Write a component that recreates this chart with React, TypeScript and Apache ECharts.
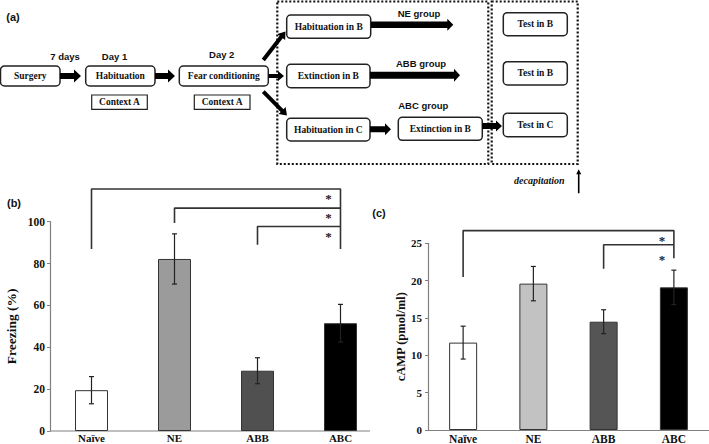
import React, { useEffect, useRef } from "react";
import * as echarts from "echarts";

const categories = ["Naïve", "NE", "ABB", "ABC"];
const freezingMean = [19.5, 82.2, 28.8, 51.5];
const freezingErr = [6.5, 12, 6.2, 9];
const campMean = [11.7, 19.6, 14.5, 19.1];
const campErr = [2.2, 2.3, 1.6, 2.3];
const freezingColors = ["#ffffff", "#9b9b9b", "#505050", "#000000"];
const campColors = ["#ffffff", "#c2c2c2", "#555555", "#000000"];
const freezingBrackets = [
  [[0, 86.9], [0, 115.6], [3, 115.6], [3, 86.9]],
  [[1, 99.4], [1, 106.5], [3, 106.5]],
  [[2, 89], [2, 97.7], [3, 97.7]],
];
const freezingStars = [111.9, 102.8, 94.1];
const campBrackets = [
  [[0, 20.5], [0, 26.7], [3, 26.7], [3, 23.0]],
  [[2, 21.6], [2, 24.8], [3, 24.8]],
];
const campStars = [25.6, 23.1];

const SERIF = "Liberation Serif";
const SANS = "Liberation Sans";

function arrow(x1: number, y1: number, x2: number, y2: number, sw: number, hw: number, hl: number) {
  const dx = x2 - x1, dy = y2 - y1;
  const L = Math.hypot(dx, dy);
  const ux = dx / L, uy = dy / L;
  const nx = -uy, ny = ux;
  const bx = x2 - ux * hl, by = y2 - uy * hl;
  return {
    type: "polygon",
    shape: {
      points: [
        [x1 + nx * sw, y1 + ny * sw],
        [bx + nx * sw, by + ny * sw],
        [bx + nx * hw, by + ny * hw],
        [x2, y2],
        [bx - nx * hw, by - ny * hw],
        [bx - nx * sw, by - ny * sw],
        [x1 - nx * sw, y1 - ny * sw],
      ],
    },
    style: { fill: "#000" },
  };
}

function box(x: number, y: number, w: number, h: number, text: string, r = 4, lw = 1.5) {
  return [
    { type: "rect", shape: { x, y, width: w, height: h, r }, style: { fill: "#fff", stroke: "#222", lineWidth: lw } },
    {
      type: "text", x: x + w / 2, y: y + h / 2,
      style: { text, fontFamily: SERIF, fontWeight: "bold", fontSize: 9.5, fill: "#111", align: "center", verticalAlign: "middle" },
    },
  ];
}

function label(x: number, y: number, text: string, size = 9.5, family = SANS, italic = false) {
  return {
    type: "text", x, y,
    style: { text, fontFamily: family, fontWeight: "bold", fontStyle: italic ? "italic" : "normal", fontSize: size, fill: "#111", align: "center", verticalAlign: "middle" },
  };
}

function errorSeries(mean: number[], err: number[], xi: number, cap: number) {
  return {
    type: "custom",
    xAxisIndex: xi, yAxisIndex: xi,
    z: 5,
    data: mean.map((m, i) => [i, m - err[i], m + err[i]]),
    encode: { x: 0, y: [1, 2] },
    renderItem: (params: any, api: any) => {
      const x = api.value(0);
      const lo = api.coord([x, api.value(1)]);
      const hi = api.coord([x, api.value(2)]);
      const st = { stroke: "#222", lineWidth: 1.2 };
      return {
        type: "group",
        children: [
          { type: "line", shape: { x1: lo[0], y1: lo[1], x2: hi[0], y2: hi[1] }, style: st },
          { type: "line", shape: { x1: hi[0] - cap, y1: hi[1], x2: hi[0] + cap, y2: hi[1] }, style: st },
          { type: "line", shape: { x1: lo[0] - cap, y1: lo[1], x2: lo[0] + cap, y2: lo[1] }, style: st },
        ],
      };
    },
  };
}

function bracketSeries(brackets: number[][][], xi: number) {
  return brackets.map((b) => ({
    type: "line",
    xAxisIndex: xi, yAxisIndex: xi,
    data: b,
    symbol: "none",
    clip: false,
    silent: true,
    z: 6,
    lineStyle: { color: "#333", width: 1.6 },
  }));
}

export default function App() {
  const ref = useRef<HTMLDivElement>(null);
  useEffect(() => {
    const chart = echarts.init(ref.current!, null, { renderer: "svg" });
    const axisLabel = { fontFamily: SERIF, fontWeight: "bold", color: "#111" };
    const graphics: any[] = [
      label(13, 17, "(a)", 11),
      label(14, 203, "(b)", 11),
      label(379, 213, "(c)", 11),
      ...box(0.5, 66, 59.5, 20, "Surgery"),
      ...box(85.7, 66, 69.3, 20, "Habituation"),
      ...box(179.3, 66, 89, 20, "Fear conditioning"),
      ...box(91.7, 95, 55.6, 14.3, "Context A", 0, 1.2),
      ...box(194.3, 95, 55.7, 14.3, "Context A", 0, 1.2),
      { type: "rect", shape: { x: 277.3, y: 1.5, width: 211, height: 162.5 }, style: { fill: "none", stroke: "#111", lineWidth: 2.2, lineDash: [2, 2] } },
      { type: "rect", shape: { x: 491.7, y: 1.5, width: 86, height: 162.5 }, style: { fill: "none", stroke: "#111", lineWidth: 2.2, lineDash: [2, 2] } },
      ...box(286.7, 15, 84, 23.3, "Habituation in B"),
      ...box(286.7, 64.3, 83.3, 23.4, "Extinction in B"),
      ...box(286.7, 118.3, 83.3, 22.7, "Habituation in C"),
      ...box(398.3, 117.3, 84, 23, "Extinction in B"),
      ...box(503.3, 12.7, 64, 23, "Test in B"),
      ...box(503.3, 61.7, 64, 23.3, "Test in B"),
      ...box(503.3, 113.3, 64, 23.4, "Test in C"),
      label(65, 56, "7 days"),
      label(114.5, 56, "Day 1"),
      label(221.7, 54.5, "Day 2"),
      label(419, 13, "NE group"),
      label(421, 63, "ABB group"),
      label(423.3, 105, "ABC group"),
      label(539.3, 180, "decapitation", 10, SERIF, true),
      arrow(60, 76, 81, 76, 3, 6.5, 7),
      arrow(155, 76, 175, 76, 3, 6.5, 7),
      arrow(268.5, 76, 284, 76, 2, 5, 6),
      arrow(263.3, 60, 285.5, 31.5, 2, 5, 7),
      arrow(263.3, 91.7, 287, 115.5, 2, 5, 7),
      arrow(371, 24.7, 453.3, 24.7, 3.2, 6, 6),
      arrow(370, 75.3, 460, 75.3, 3.5, 6.5, 6),
      arrow(370, 129.3, 391, 129.3, 3, 6, 6),
      arrow(482.3, 126, 502, 126, 3, 5.5, 6),
      arrow(578.7, 193.3, 578.7, 169.3, 0.8, 2.5, 5),
      { type: "line", shape: { x1: 50, y1: 431, x2: 370, y2: 431 }, style: { stroke: "#808080", lineWidth: 1.2 } },
    ];
    chart.setOption({
      animation: false,
      graphic: { elements: graphics },
      grid: [
        { left: 50, top: 221.7, width: 332, height: 209.3, outerBoundsMode: "none" },
        { left: 428, top: 243.3, width: 281, height: 186.7, outerBoundsMode: "none" },
      ],
      xAxis: [
        {
          type: "category", gridIndex: 0, data: categories,
          axisLine: { show: false }, axisTick: { show: false },
          axisLabel: { ...axisLabel, fontSize: 11, margin: 1 },
        },
        {
          type: "category", gridIndex: 1, data: categories,
          axisLine: { show: true, lineStyle: { color: "#808080", width: 1.2 } }, axisTick: { show: false },
          axisLabel: { ...axisLabel, fontSize: 11.5, margin: 3 },
        },
      ],
      yAxis: [
        {
          type: "value", gridIndex: 0, min: 0, max: 100, interval: 20,
          axisLine: { show: true, lineStyle: { color: "#808080", width: 1.2 } },
          axisTick: { show: true, length: 3, lineStyle: { color: "#808080" } },
          splitLine: { show: false },
          axisLabel: { ...axisLabel, fontSize: 11.5, margin: 5 },
          name: "Freezing (%)", nameLocation: "middle", nameGap: 32,
          nameTextStyle: { fontFamily: SERIF, fontWeight: "bold", fontSize: 13.5, color: "#111" },
        },
        {
          type: "value", gridIndex: 1, min: 0, max: 25, interval: 5,
          axisLine: { show: true, lineStyle: { color: "#808080", width: 1.2 } },
          axisTick: { show: true, length: 3, lineStyle: { color: "#808080" } },
          splitLine: { show: false },
          axisLabel: { ...axisLabel, fontSize: 11, margin: 6 },
          name: "cAMP (pmol/ml)", nameLocation: "middle", nameGap: 19,
          nameTextStyle: { fontFamily: SERIF, fontWeight: "bold", fontSize: 12.5, color: "#111" },
        },
      ],
      series: [
        {
          type: "bar", xAxisIndex: 0, yAxisIndex: 0, barWidth: 33,
          data: freezingMean.map((v, i) => ({ value: v, itemStyle: { color: freezingColors[i] } })),
          itemStyle: { borderColor: "#333", borderWidth: 1 },
        },
        errorSeries(freezingMean, freezingErr, 0, 2.5),
        ...bracketSeries(freezingBrackets, 0),
        {
          type: "bar", xAxisIndex: 1, yAxisIndex: 1, barWidth: 28,
          data: campMean.map((v, i) => ({ value: v, itemStyle: { color: campColors[i] } })),
          itemStyle: { borderColor: "#333", borderWidth: 1 },
        },
        errorSeries(campMean, campErr, 1, 2.5),
        ...bracketSeries(campBrackets, 1),
      ],
    });
    const starText = (gridIndex: number, v: number) => {
      const p = chart.convertToPixel({ gridIndex } as any, [3, v]) as number[];
      return {
        type: "text",
        x: p[0] - 12,
        y: p[1] + 2,
        style: { text: "*", fontFamily: SERIF, fontWeight: "bold", fontSize: 13, fill: "#222", align: "center", verticalAlign: "middle" },
      };
    };
    const stars = [
      ...freezingStars.map((v) => starText(0, v)),
      ...campStars.map((v) => starText(1, v)),
    ];
    chart.setOption({ graphic: { elements: [...graphics, ...stars] } });
    return () => chart.dispose();
  }, []);
  return <div ref={ref} style={{ position: "absolute", left: 0, top: 0, width: 709, height: 444 }} />;
}
